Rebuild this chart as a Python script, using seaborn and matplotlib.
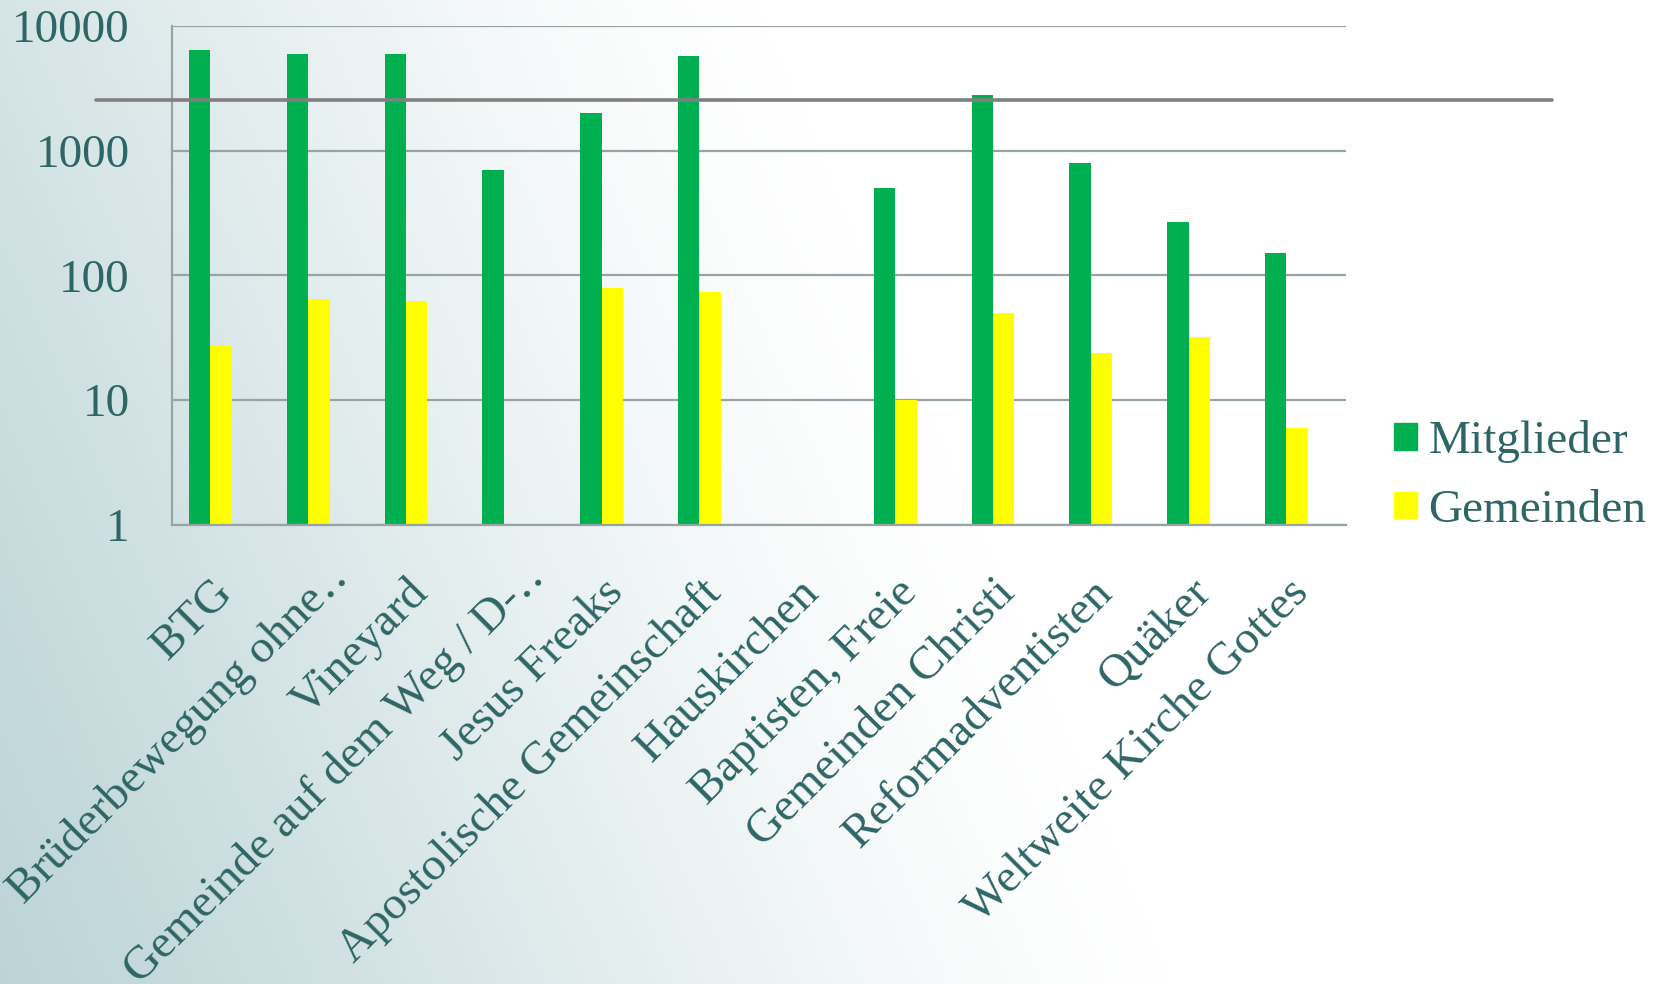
import numpy as np
import pandas as pd
import matplotlib
matplotlib.use("Agg")
import matplotlib.pyplot as plt
import seaborn as sns
from matplotlib.patches import Patch
from matplotlib.lines import Line2D
from matplotlib.ticker import FixedLocator, NullLocator
from matplotlib.transforms import ScaledTranslation

# chart data
categories = ["BTG", "Brüderbewegung ohne‥", "Vineyard", "Gemeinde auf dem Weg / D-‥",
              "Jesus Freaks", "Apostolische Gemeinschaft", "Hauskirchen", "Baptisten, Freie",
              "Gemeinden Christi", "Reformadventisten", "Quäker", "Weltweite Kirche Gottes"]
mitglieder = [6400, 5950, 6000, 700, 2000, 5700, np.nan, 500, 2800, 800, 270, 150]
gemeinden = [27, 65, 62, np.nan, 80, 73, np.nan, 10, 50, 24, 32, 6]
# the original chart has an empty third series, which shifts the bars left
series = ["Mitglieder", "Gemeinden", "leer"]
colors = ["#00B050", "#FFFF00", "#FFFFFF"]
yticks = [1, 10, 100, 1000, 10000]
ytick_labels = ["1", "10", "100", "1000", "10000"]

text_color = "#2E6565"
grid_color = "#98A3A3"

df = pd.DataFrame({
    "Gruppe": categories * 2,
    "Serie": [s for s in series[:2] for _ in categories],
    "Wert": mitglieder + gemeinden,
}).dropna()

sns.set_style("white")
plt.rcParams["font.family"] = ["Liberation Serif", "DejaVu Serif"]

fig = plt.figure(figsize=(16.69, 9.84), dpi=100)

# slide background: teal-grey on the left fading to white on the right
bg = fig.add_axes([0, 0, 1, 1], zorder=-10)
bg.axis("off")
xx, yy = np.meshgrid(np.linspace(0, 1, 400), np.linspace(0, 1, 240))
shade = np.clip(0.56 + 0.31 * yy - 1.24 * xx, 0, 1)
shade = shade * shade * (3 - 2 * shade) * 0.6 + shade * 0.4
dark = np.array([0.72, 0.82, 0.83])
img = 1 - shade[..., None] * (1 - dark)
bg.imshow(img, extent=[0, 1, 0, 1], origin="upper", aspect="auto")

ax = fig.add_axes([0.1031, 0.4665, 0.7034, 0.5072])
ax.set_facecolor("none")
ax.set_yscale("log")

sns.barplot(data=df, x="Gruppe", y="Wert", hue="Serie", hue_order=series,
            order=categories, palette=colors, saturation=1, width=0.656,
            linewidth=0, errorbar=None, legend=False, ax=ax)

ax.set_ylim(1, 10000)
ax.set_xlim(-0.5, len(categories) - 0.5)
ax.yaxis.set_major_locator(FixedLocator(yticks))
ax.yaxis.set_minor_locator(NullLocator())
ax.set_yticklabels(ytick_labels)
ax.set_xlabel("")
ax.set_ylabel("")

ax.grid(axis="y", color=grid_color, lw=1.6)
ax.set_axisbelow(True)
for side in ["top", "right"]:
    ax.spines[side].set_visible(False)
for side in ["left", "bottom"]:
    ax.spines[side].set_color(grid_color)
    ax.spines[side].set_linewidth(1.6)

ax.tick_params(axis="y", length=9.5, width=1.6, color=grid_color, pad=21,
               labelsize=34, labelcolor=text_color)
ax.set_xticks(range(len(categories)))
ax.set_xticklabels(categories)
ax.set_xticks(np.arange(-0.5, len(categories), 1), minor=True)
ax.tick_params(axis="x", which="major", length=0, pad=37, labelsize=34,
               labelcolor=text_color)
ax.tick_params(axis="x", which="minor", length=10, width=1.6, color=grid_color)
for lab in ax.get_xticklabels():
    dx, dy = -10, 5
    if lab.get_text().endswith("‥"):
        # truncated labels sit a bit further up the diagonal on the slide
        dx, dy = dx + 18, dy + 16
    lab.set_rotation(45)
    lab.set_ha("right")
    lab.set_va("top")
    lab.set_rotation_mode("anchor")
    lab.set_transform(lab.get_transform()
                      + ScaledTranslation(dx / 100, dy / 100, fig.dpi_scale_trans))

# decorative rule from the slide layout
fig.add_artist(Line2D([96 / 1669, 1552 / 1669], [1 - 100 / 984, 1 - 100 / 984],
                      transform=fig.transFigure, color="#808080", lw=2.6, zorder=10))

handles = [Patch(color=c) for c in colors[:2]]
leg = fig.legend(handles, series[:2], loc="center left",
                 bbox_to_anchor=(1394 / 1669, 1 - 476 / 984), frameon=False,
                 fontsize=34, handlelength=0.48, handleheight=0.48,
                 handletextpad=0.25, labelspacing=0.55, borderpad=0, borderaxespad=0)
for t in leg.get_texts():
    t.set_color(text_color)

fig.savefig("out.png", dpi=100)
